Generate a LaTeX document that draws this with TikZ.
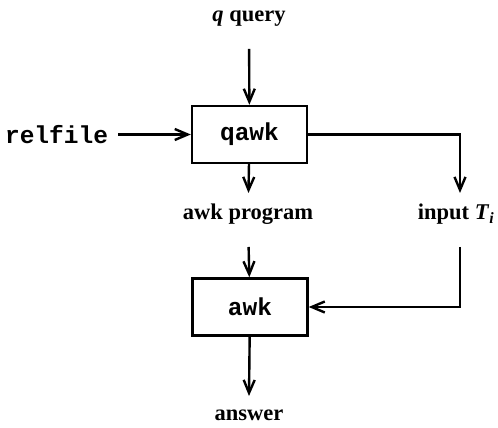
\documentclass[tikz,border=0pt]{standalone}
\usepackage{fontspec}
\setmainfont{Liberation Serif}
\setmonofont{Liberation Mono}
\usetikzlibrary{arrows.meta}
\begin{document}
\begin{tikzpicture}[x=1pt,y=1pt,line width=2.4pt,
    >={Straight Barb[length=13pt,width=11pt]},
    prog/.style={draw,minimum width=115pt,minimum height=57pt,font=\fontsize{24.5}{28}\ttfamily\bfseries},
    lbl/.style={inner sep=0pt,outer ysep=11pt,text height=16pt,text depth=16pt,anchor=base,font=\fontsize{22.5}{26}\selectfont\bfseries}]
    \useasboundingbox(0,0)rectangle(498,428);
    \node[lbl](query)at(249,406){\textit{q} query};
    \node[prog](qawk)at(249.5,293.5){qawk};
    \node[inner sep=0pt,outer xsep=10pt,anchor=east,font=\fontsize{24.5}{28}\ttfamily\bfseries](relfile)at(118,293.5){relfile};
    \node[lbl](awkprog)at(248,208){awk program};
    \node[lbl](input)at(456,208){input \textit{T}\textsubscript{\textit{i}}};
    \node[prog](awk)at(250,121){awk};
    \node[lbl,text depth=0pt,outer ysep=0pt](answer)at(249,7){answer};
    \draw[->](query)--(qawk);
    \draw[->](relfile)--(qawk);
    \draw[->](qawk)--(awkprog);
    \draw[->](qawk.east)-|([xshift=4pt]input.north);
    \draw[->](awkprog)--(awk);
    \draw[->]([xshift=4pt]input.south)|-(awk.east);
    \draw[->](awk)--([yshift=9pt]answer.north);
\end{tikzpicture}
\end{document}
